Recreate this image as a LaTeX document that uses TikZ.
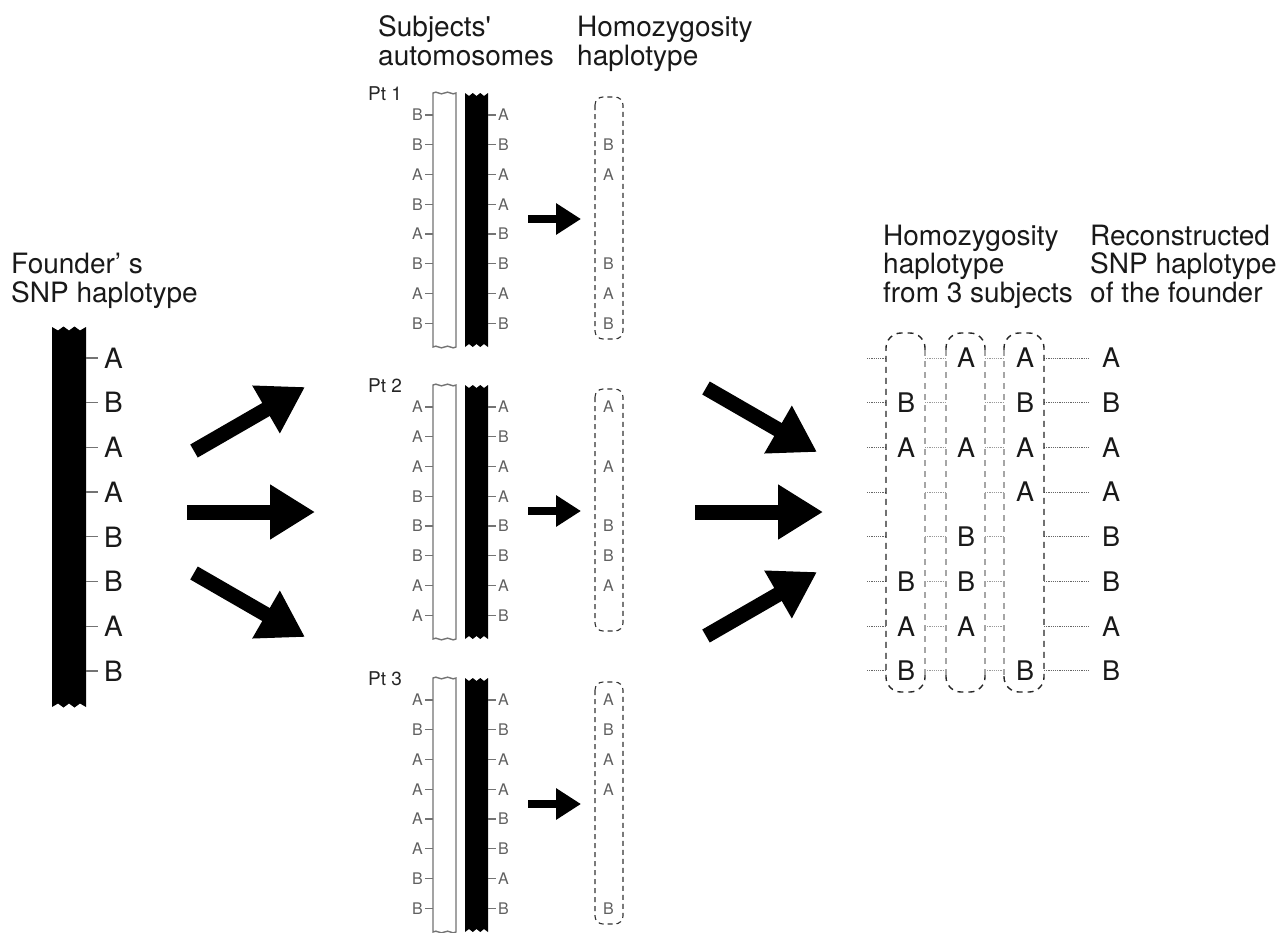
\documentclass[tikz,border=0pt]{standalone}
\usepackage{fontspec}
\newfontfamily\hv{TeX Gyre Heros}
\usetikzlibrary{arrows.meta}
\begin{document}
\begin{tikzpicture}[x=1pt,y=-1pt,
  ttl/.style={font=\hv\fontsize{28}{30}\selectfont, anchor=base west, inner sep=0pt, text=black!90},
  ptlab/.style={font=\hv\fontsize{19}{20}\selectfont, anchor=base west, inner sep=0pt, text=black!85},
  snp/.style={font=\hv\fontsize{16}{16}\selectfont, inner sep=0pt, text=black!62},
  fsnp/.style={font=\hv\fontsize{28}{28}\selectfont, inner sep=0pt, anchor=west, text=black!90},
  rsnp/.style={font=\hv\fontsize{27}{27}\selectfont, inner sep=0pt, text=black!90},
  tick/.style={draw=black!55, line width=1.3pt},
  whitebar/.style={draw=black!55, fill=white, line width=1.4pt},
  hbox/.style={draw=black!80, line width=1.1pt, dash pattern=on 5pt off 4pt, rounded corners=8pt},
  dk/.style={draw=black!85, line width=1.4pt, dash pattern=on 6pt off 5pt, rounded corners=15pt},
  lt/.style={draw=black!35, line width=1.4pt, dash pattern=on 6pt off 5pt},
  conn/.style={draw=black!60, line width=1pt, dash pattern=on 1.2pt off 1pt},
  bigarrow/.style={line width=15pt, -{Triangle[length=45pt,width=52pt]}},
  smallarrow/.style={line width=8pt, -{Triangle[length=25pt,width=30pt]}}]

\useasboundingbox (0,0) rectangle (1284,932);
\fill[white] (0,0) rectangle (1284,932);

% ---------- titles ----------
\node[ttl] (tf1) at (11,273) {Founder’ s};
\node[ttl] (tf2) at (11,302) {SNP haplotype};
\node[ttl] (ts1) at (378,36) {Subjects'};
\node[ttl] (ts2) at (378,65) {automosomes};
\node[ttl] (th1) at (577,36) {Homozygosity};
\node[ttl] (th2) at (577,65) {haplotype};
\node[ttl] (tr1) at (883,245) {Homozygosity};
\node[ttl] (tr2) at (883,273) {haplotype};
\node[ttl] (tr3) at (883,302) {from 3 subjects};
\node[ttl] (tc1) at (1090,245) {Reconstructed};
\node[ttl] (tc2) at (1090,273) {SNP haplotype};
\node[ttl] (tc3) at (1090,302) {of the founder};

% ---------- founder chromosome ----------
\fill[black] (52,707) -- (52,327) -- (58,330.5) -- (63.5,326.5) -- (69,330.5) -- (74.5,326.5) -- (80,330.5) -- (86,327)
  -- (86,707) -- (80,703.5) -- (74.5,707.5) -- (69,703.5) -- (63.5,707.5) -- (58,703.5) -- cycle;
\foreach \s [count=\k from 0] in {A,B,A,A,B,B,A,B}{
  \pgfmathsetmacro\yy{358+44.7*\k}
  \draw[tick] (86,\yy) -- (98,\yy);
  \node[fsnp] (f\k) at (104,\yy) {\s};
}

% ---------- big arrows, founder to subjects ----------
\coordinate (la1t) at (194,451); \coordinate (la1h) at (305,387);
\coordinate (la2t) at (187,512); \coordinate (la2h) at (315,512);
\coordinate (la3t) at (194,573); \coordinate (la3h) at (305,637);
\draw[bigarrow] (la1t) -- (la1h);
\draw[bigarrow] (la2t) -- (la2h);
\draw[bigarrow] (la3t) -- (la3h);

% ---------- subjects' chromosome pairs ----------
\foreach \n/\yo/\pairs in {
  1/115/{B/A,B/B,A/A,B/A,A/B,B/B,A/A,B/B},
  2/407/{A/A,A/B,A/A,B/A,B/B,B/B,A/A,A/B},
  3/700/{A/A,B/B,A/A,A/A,A/B,A/B,B/A,B/B}}{
  \pgfmathsetmacro\tp{\yo-22}
  \pgfmathsetmacro\bt{\yo+232}
  \node[ptlab] (pt\n) at (368,\yo-15) {Pt \n};
  % maternal copy (white) with broken ends
  \draw[whitebar] (433,\bt) -- (433,\tp)
    .. controls (437,\tp-3) and (440,\tp+3) .. (444.5,\tp)
    .. controls (449,\tp-3) and (452,\tp+3) .. (456,\tp)
    -- (456,\bt)
    .. controls (452,\bt+3) and (449,\bt-3) .. (444.5,\bt)
    .. controls (440,\bt+3) and (437,\bt-3) .. (433,\bt) -- cycle;
  % paternal copy (black)
  \fill[black] (465,\bt) -- (465,\tp) -- (469,\tp+3) -- (472.8,\tp) -- (476.5,\tp+3) -- (480.3,\tp) -- (484,\tp+3) -- (488,\tp)
    -- (488,\bt) -- (484,\bt-3) -- (480.3,\bt) -- (476.5,\bt-3) -- (472.8,\bt) -- (469,\bt-3) -- cycle;
  % homozygosity box
  \draw[hbox] (595,\yo-18) rectangle (623,\yo+224);
  \foreach \a/\b [count=\k from 0] in \pairs {
    \pgfmathsetmacro\yy{\yo+29.75*\k}
    \draw[tick] (425,\yy) -- (433,\yy);
    \draw[tick] (488,\yy) -- (496,\yy);
    \node[snp, anchor=east] (pl\n-\k) at (423,\yy) {\a};
    \node[snp, anchor=west] (pr\n-\k) at (498,\yy) {\b};
    \ifx\a\b
      \node[snp] (ph\n-\k) at (608.5,\yy) {\a};
    \fi
  }
  \coordinate (sa\n t) at (528,\yo+104);
  \coordinate (sa\n h) at (581,\yo+104);
  \draw[smallarrow] (sa\n t) -- (sa\n h);
}

% ---------- big arrows, subjects to reconstruction ----------
\coordinate (ra1t) at (706,388); \coordinate (ra1h) at (817,452);
\coordinate (ra2t) at (695,512); \coordinate (ra2h) at (823,512);
\coordinate (ra3t) at (706,636); \coordinate (ra3h) at (817,572);
\draw[bigarrow] (ra1t) -- (ra1h);
\draw[bigarrow] (ra2t) -- (ra2h);
\draw[bigarrow] (ra3t) -- (ra3h);

% ---------- combined homozygosity haplotypes ----------
\foreach \k in {0,...,7}{
  \pgfmathsetmacro\yy{358+44.7*\k}
  \draw[conn] (867,\yy) -- (886,\yy);
  \draw[conn, draw=black!40] (925,\yy) -- (946,\yy);
  \draw[conn, draw=black!40] (985,\yy) -- (1004,\yy);
  \draw[conn] (1044,\yy) -- (1090,\yy);
}
% column 1 (Pt 1)
\draw[dk] (925,350) -- (925,333) -- (886,333) -- (886,692) -- (925,692) -- (925,675);
\draw[lt] (925,350) -- (925,675);
% column 2 (Pt 2)
\draw[dk] (946,350) -- (946,333) -- (985,333) -- (985,350);
\draw[dk] (946,675) -- (946,692) -- (985,692) -- (985,675);
\draw[lt] (946,350) -- (946,675);
\draw[lt] (985,350) -- (985,675);
% column 3 (Pt 3)
\draw[dk] (1004,350) -- (1004,333) -- (1044,333) -- (1044,692) -- (1004,692) -- (1004,675);
\draw[lt] (1004,350) -- (1004,675);

\foreach \lst/\x/\nm in {
  {-,B,A,-,-,B,A,B}/906/ca,
  {A,-,A,-,B,B,A,-}/966/cb,
  {A,B,A,A,-,-,-,B}/1025/cc,
  {A,B,A,A,B,B,A,B}/1111/cr}{
  \foreach \s [count=\k from 0] in \lst {
    \if\s-\else
      \node[rsnp] (\nm-\k) at (\x,358+44.7*\k) {\s};
    \fi
  }
}
\end{tikzpicture}
\end{document}
